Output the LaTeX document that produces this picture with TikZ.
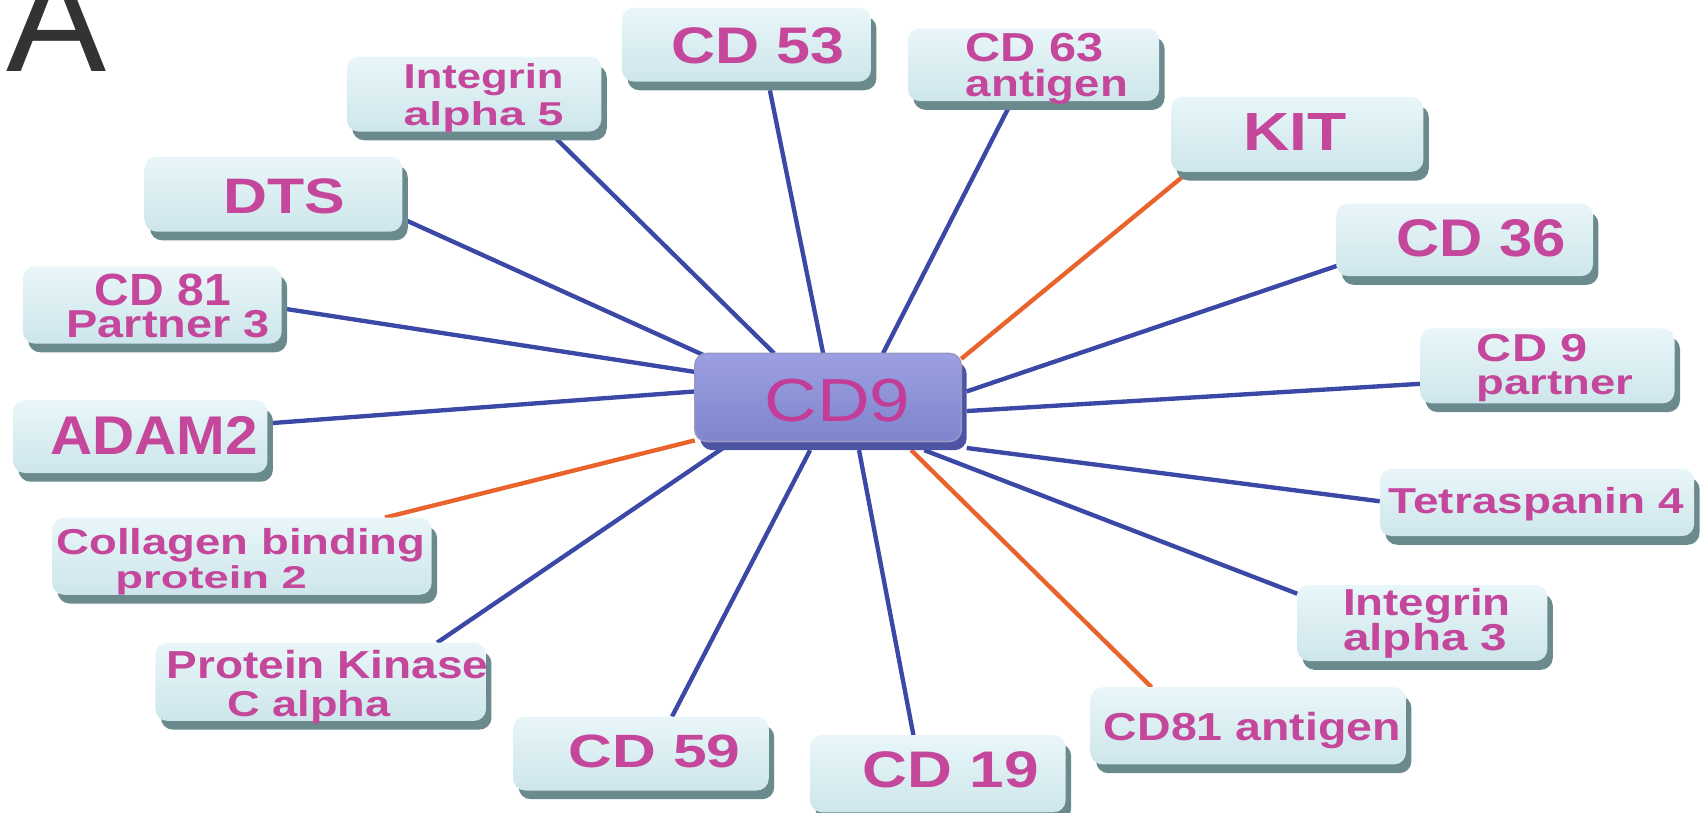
\documentclass[tikz,border=0pt]{standalone}
\usepackage{fontspec}
\setmainfont{Liberation Sans}
\usepackage{graphicx}
\usetikzlibrary{shadows}
\pgfdeclarelayer{bg}
\pgfsetlayers{bg,main}

\definecolor{facetop}{HTML}{E9F6F9}
\definecolor{facebot}{HTML}{CDE6EB}
\definecolor{rim}{HTML}{6A8A8D}
\definecolor{labelpink}{HTML}{C4479B}
\definecolor{hubtop}{HTML}{9CA0E2}
\definecolor{hubbot}{HTML}{7F84CC}
\definecolor{hubrim}{HTML}{4E54A4}
\definecolor{hubtext}{HTML}{C23C98}
\definecolor{linkblue}{HTML}{3B48A6}
\definecolor{linkorange}{HTML}{E8642C}

\tikzset{
  partner/.style={rectangle, rounded corners=11pt, inner sep=0pt,
    top color=facetop, bottom color=facebot,
    general shadow={fill=rim, shadow xshift=5pt, shadow yshift=-8pt}},
  hub/.style={rectangle, rounded corners=11pt, inner sep=0pt,
    top color=hubtop, bottom color=hubbot, draw=hubrim!60, line width=1.5pt,
    general shadow={fill=hubrim, shadow xshift=5pt, shadow yshift=-8pt}},
  word/.style={inner sep=0pt, anchor=base west, text=labelpink, font=\bfseries},
  hubword/.style={inner sep=0pt, anchor=base west, text=hubtext, font=\normalfont},
  bluelink/.style={draw=linkblue, line width=4pt},
  orangelink/.style={draw=linkorange, line width=4pt},
}

% box: name, centre x, centre y, width, height
\newcommand\partnerbox[5]{\node[partner, minimum width=#4pt, minimum height=#5pt] (#1) at (#2,#3) {};}
% one line of a label: name, left x, baseline y, width, height, text
\newcommand\word[6]{\node[word] (#1) at (#2,#3) {\resizebox{#4pt}{#5pt}{#6}};}
% connector: style, node, offset from its centre, node, offset from its centre
\newcommand\link[7]{\draw[#1] ([shift={(#3,#4)}]#2.center) -- ([shift={(#6,#7)}]#5.center);}

\begin{document}
\begin{tikzpicture}[x=1pt, y=-1pt]
\useasboundingbox (0,0) rectangle (1568,747);
\clip (0,0) rectangle (1568,747);

% panel letter
\node[anchor=base west, inner sep=0pt, text=black!80,
      font=\fontsize{138}{140}\selectfont] (panel) at (6,66) {A};

% partner boxes
\partnerbox{cd53}{686.5}{41}{229}{68}
\partnerbox{cd63}{950.5}{59.5}{231}{67}
\partnerbox{ia5}{436}{86.5}{234}{69}
\partnerbox{kit}{1193}{123.5}{232}{69}
\partnerbox{dts}{251.5}{178.5}{237}{69}
\partnerbox{cd36}{1347}{220.5}{236}{67}
\partnerbox{cd81p}{140}{280.5}{238}{71}
\partnerbox{cd9p}{1423}{336.5}{234}{69}
\partnerbox{adam2}{129}{401.5}{234}{67}
\partnerbox{tsp4}{1413.5}{462}{289}{62}
\partnerbox{col}{222.5}{511.5}{349}{71}
\partnerbox{ia3}{1308}{573}{230}{70}
\partnerbox{pkc}{295}{627}{304}{72}
\partnerbox{cd59}{589.5}{693}{235}{68}
\partnerbox{cd19}{862.5}{711.5}{235}{71}
\partnerbox{cd81}{1148}{667.5}{290}{71}

% central protein
\node[hub, minimum width=245pt, minimum height=81pt] (cd9) at (761.5,365.5) {};
\node[hubword] (cd9-t) at (703,388) {\resizebox{134pt}{39pt}{CD9}};

% labels
\word{cd53-t}{617}{58}{159}{33}{CD 53}
\word{cd63-t1}{888}{57}{127}{26}{CD 63}
\word{cd63-t2}{888}{89}{149}{25}{antigen}
\word{ia5-t1}{371}{81}{147}{23}{Integrin}
\word{ia5-t2}{371}{115}{147}{22}{alpha 5}
\word{kit-t}{1143}{138}{95}{34}{KIT}
\word{dts-t}{205}{196}{112}{32}{DTS}
\word{cd36-t}{1284}{236}{156}{34}{CD 36}
\word{cd81p-t1}{87}{281}{125}{29}{CD 81}
\word{cd81p-t2}{61}{310}{187}{25}{Partner 3}
\word{adam2-t}{46}{418}{191}{35}{ADAM2}
\word{col-t1}{52}{510}{339}{24}{Collagen binding}
\word{col-t2}{106}{541}{176}{21}{protein 2}
\word{pkc-t1}{153}{624}{296}{26}{Protein Kinase}
\word{pkc-t2}{209}{659}{150}{24}{C alpha}
\word{cd59-t}{523}{706}{158}{30}{CD 59}
\word{cd19-t}{793}{724}{162}{33}{CD 19}
\word{cd81-t}{1015}{681}{273}{26}{CD81 antigen}
\word{ia3-t1}{1235}{566}{154}{25}{Integrin}
\word{ia3-t2}{1235}{598}{151}{25}{alpha 3}
\word{tsp4-t}{1277}{472}{271}{24}{Tetraspanin 4}
\word{cd9p-t1}{1358}{332}{102}{25}{CD 9}
\word{cd9p-t2}{1358}{363}{144}{21}{partner}

% interaction lines, behind the boxes
\begin{pgfonlayer}{bg}
\link{bluelink}{ia5}{76}{41.5}{cd9}{-49.5}{-40.5}
\link{bluelink}{cd53}{21.5}{42}{cd9}{-4.5}{-40.5}
\link{bluelink}{cd63}{-23.5}{40.5}{cd9}{50.5}{-40.5}
\link{orangelink}{kit}{-106}{39.5}{cd9}{122.5}{-35.5}
\link{bluelink}{dts}{120.5}{23.5}{cd9}{-113.5}{-38.5}
\link{bluelink}{cd36}{-116}{23.5}{cd9}{127.5}{-5.5}
\link{bluelink}{cd81p}{122}{3.5}{cd9}{-122.5}{-23.5}
\link{bluelink}{cd9p}{-117}{16.5}{cd9}{127.5}{12.5}
\link{bluelink}{adam2}{122}{-12.5}{cd9}{-122.5}{-5.5}
\link{bluelink}{tsp4}{-144.5}{-1}{cd9}{127.5}{46.5}
\link{orangelink}{col}{131.5}{-35.5}{cd9}{-122.5}{39.5}
\link{bluelink}{ia3}{-115}{-27}{cd9}{88.5}{48.5}
\link{bluelink}{pkc}{107}{-36}{cd9}{-96.5}{46.5}
\link{bluelink}{cd59}{28.5}{-34}{cd9}{-16.5}{48.5}
\link{bluelink}{cd19}{-22.5}{-35.5}{cd9}{28.5}{48.5}
\link{orangelink}{cd81}{-89}{-35.5}{cd9}{76.5}{48.5}
\end{pgfonlayer}
\end{tikzpicture}
\end{document}
